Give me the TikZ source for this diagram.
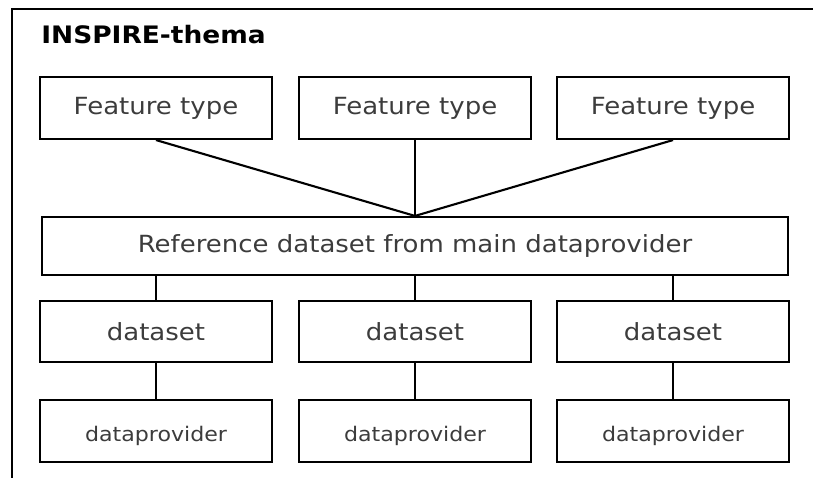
\documentclass[tikz,border=0pt]{standalone}
\usepackage{fontspec}
\newfontfamily\diagfont{DejaVu Sans}[FakeStretch=1.1]
\definecolor{boxtext}{RGB}{60, 60, 60}
\usepackage{tikz}

\tikzset{
  themabox/.style={draw, line width=1.5pt, minimum width=5.78cm, minimum height=1.55cm, inner sep=0pt, text=boxtext, font=\diagfont\fontsize{16.8}{19}\selectfont},
  link/.style={line width=1.5pt}
}

\begin{document}
\begin{tikzpicture}[x=0.025cm, y=-0.025cm]
  \useasboundingbox (0,0) rectangle (813,478);
  % outer frame, cut by the page at right and bottom
  \coordinate (framebl) at (12,478);
  \coordinate (frametr) at (813,9);
  \draw[link] (framebl) |- (frametr);
  \node[anchor=base west, inner sep=0pt, font=\diagfont\bfseries\fontsize{17.1}{19}\selectfont] (title) at (41,44) {INSPIRE-thema};

  \node[themabox, minimum width=18.65cm, minimum height=1.45cm] (ref) at (415,246) {Reference dataset from main dataprovider};

  \foreach \i/\x in {1/156, 2/415, 3/673} {
    \node[themabox] (ft\i) at (\x,108) {Feature type};
    \node[themabox, minimum height=1.52cm] (ds\i) at (\x,331.5) {dataset};
    \node[themabox, font=\diagfont\fontsize{14.3}{16}\selectfont, text height=19pt, text depth=4pt] (dp\i) at (\x,431) {dataprovider};
    \draw[link] (ft\i.south) -- (ref.north);
    \draw[link] (ds\i.north) -- (ds\i.north |- ref.south);
    \draw[link] (ds\i.south) -- (dp\i.north);
  }
\end{tikzpicture}
\end{document}
